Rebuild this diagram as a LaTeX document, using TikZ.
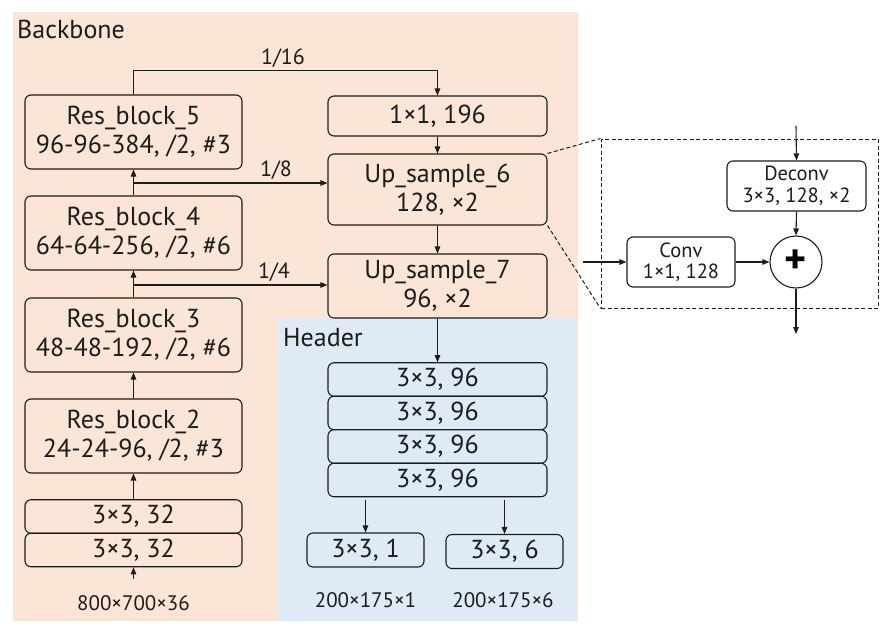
\documentclass[tikz,border=0pt]{standalone}
\usepackage{fontspec}
\setmainfont{PT Sans}
\usetikzlibrary{arrows.meta, positioning}
\definecolor{backcolor}{RGB}{251,229,214}
\definecolor{headcolor}{RGB}{222,235,247}
\definecolor{linecolor}{RGB}{28,28,28}

\begin{document}
\begin{tikzpicture}[
    x=1pt, y=-1pt,
    block/.style={draw=linecolor, line width=1.1pt, rounded corners=6pt, inner sep=0pt, align=center, text=linecolor, font=\fontsize{26}{29}\selectfont},
    resbox/.style={block, fill=backcolor, minimum width=217pt, minimum height=74pt},
    stembox/.style={block, fill=backcolor, minimum width=217pt, minimum height=33.5pt},
    upbox/.style={block, fill=backcolor, minimum width=219pt},
    headbox/.style={block, fill=headcolor, minimum width=219pt, minimum height=33.5pt},
    outbox/.style={block, fill=headcolor, minimum width=117pt, minimum height=34pt},
    smallbox/.style={block, fill=white, minimum height=50pt, font=\fontsize{20.5}{21.5}\selectfont},
    lab/.style={inner sep=0pt, text=linecolor, font=\fontsize{21}{24}\selectfont},
    title/.style={inner sep=0pt, anchor=west, text=linecolor, font=\fontsize{26}{28}\selectfont},
    arrow/.style={-{Triangle[length=7pt, width=5.5pt]}, line width=1.1pt, draw=linecolor},
    zoomline/.style={draw=linecolor, line width=1pt, dash pattern=on 4pt off 2.5pt}
]
    \useasboundingbox (0,0) rectangle (896,632);

    % Regions
    \fill[backcolor] (13,12) rectangle (578,621);
    \fill[headcolor] (278,318) rectangle (576,621);
    \node[title] (bbtitle) at (17,29) {Backbone};
    \node[title] (hdtitle) at (283,338) {Header};

    % Backbone
    \node[resbox] (res5) at (133.5,132) {Res\_block\_5\\96-96-384, /2, \#3};
    \node[resbox] (res4) at (133.5,233) {Res\_block\_4\\64-64-256, /2, \#6};
    \node[resbox] (res3) at (133.5,335) {Res\_block\_3\\48-48-192, /2, \#6};
    \node[resbox] (res2) at (133.5,436) {Res\_block\_2\\24-24-96, /2, \#3};
    \node[stembox] (stem1) at (133.5,516.5) {3×3, 32};
    \node[stembox] (stem2) at (133.5,550) {3×3, 32};
    \node[lab] (inlab) at (133.5,603) {800×700×36};
    \coordinate (inpt) at (133.5,579);

    \draw[arrow] (inpt) -- (stem2.south);
    \draw[arrow] (stem1.north) -- (res2.south);
    \draw[arrow] (res2.north) -- (res3.south);
    \draw[arrow] (res3.north) -- (res4.south);
    \draw[arrow] (res4.north) -- (res5.south);

    % Up-sampling path
    \node[upbox, minimum height=40pt] (c196) at (437.5,116) {1×1, 196};
    \node[upbox, minimum height=71pt] (up6) at (437.5,189.5) {Up\_sample\_6\\128, ×2};
    \node[upbox, minimum height=64pt] (up7) at (437.5,286) {Up\_sample\_7\\96, ×2};

    \coordinate (br8) at (133.5,183);
    \coordinate (br4) at (133.5,285);
    \draw[arrow] (res5.north) -- ++(0,-24) -| (c196.north);
    \draw[arrow] (br8) -- (br8 -| up6.west);
    \draw[arrow] (br4) -- (br4 -| up7.west);
    \draw[arrow] (c196.south) -- (up6.north);
    \draw[arrow] (up6.south) -- (up7.north);

    \node[lab, font=\fontsize{22}{24}\selectfont] (l16) at (283,58) {1/16};
    \node[lab, font=\fontsize{22}{24}\selectfont] (l8) at (276,170) {1/8};
    \node[lab, font=\fontsize{22}{24}\selectfont] (l4) at (274,272) {1/4};

    % Header
    \node[headbox] (head1) at (437.5,379.5) {3×3, 96};
    \node[headbox] (head2) at (437.5,413) {3×3, 96};
    \node[headbox] (head3) at (437.5,446.5) {3×3, 96};
    \node[headbox] (head4) at (437.5,480) {3×3, 96};
    \node[outbox] (out1) at (365.5,550) {3×3, 1};
    \node[outbox] (out2) at (504.5,551.5) {3×3, 6};
    \node[lab] (dim1) at (365.5,600) {200×175×1};
    \node[lab] (dim2) at (503,600) {200×175×6};

    \draw[arrow] (up7.south) -- (head1.north);
    \draw[arrow] (out1.north |- head4.south) ++(0,3) -- (out1.north);
    \draw[arrow] (out2.north |- head4.south) ++(0,3) -- (out2.north);

    % Up-sample detail
    \node[zoomline, minimum width=277pt, minimum height=169pt, inner sep=0pt] (detail) at (739.5,223.5) {};
    \draw[zoomline] (up6.north east) -- (detail.north west);
    \draw[zoomline] (up6.south east) -- (detail.south west);

    \node[smallbox, minimum width=139pt] (deconv) at (796.5,186) {Deconv\\3×3, 128, ×2};
    \node[smallbox, minimum width=108pt] (conv) at (681,262) {Conv\\1×1, 128};
    \node[circle, draw=linecolor, line width=1.1pt, fill=white, minimum size=52pt, inner sep=0pt, font=\fontsize{42}{42}\selectfont\bfseries] (plus) at (796,262) {+};
    \coordinate (decin) at (796,126);
    \coordinate (convin) at (583,262);
    \coordinate (sumout) at (796,334);

    \draw[arrow] (decin) -- (deconv.north);
    \draw[arrow] (deconv.south) -- (plus.north);
    \draw[arrow] (convin) -- (conv.west);
    \draw[arrow] (conv.east) -- (plus.west);
    \draw[arrow] (plus.south) -- (sumout);
\end{tikzpicture}
\end{document}
